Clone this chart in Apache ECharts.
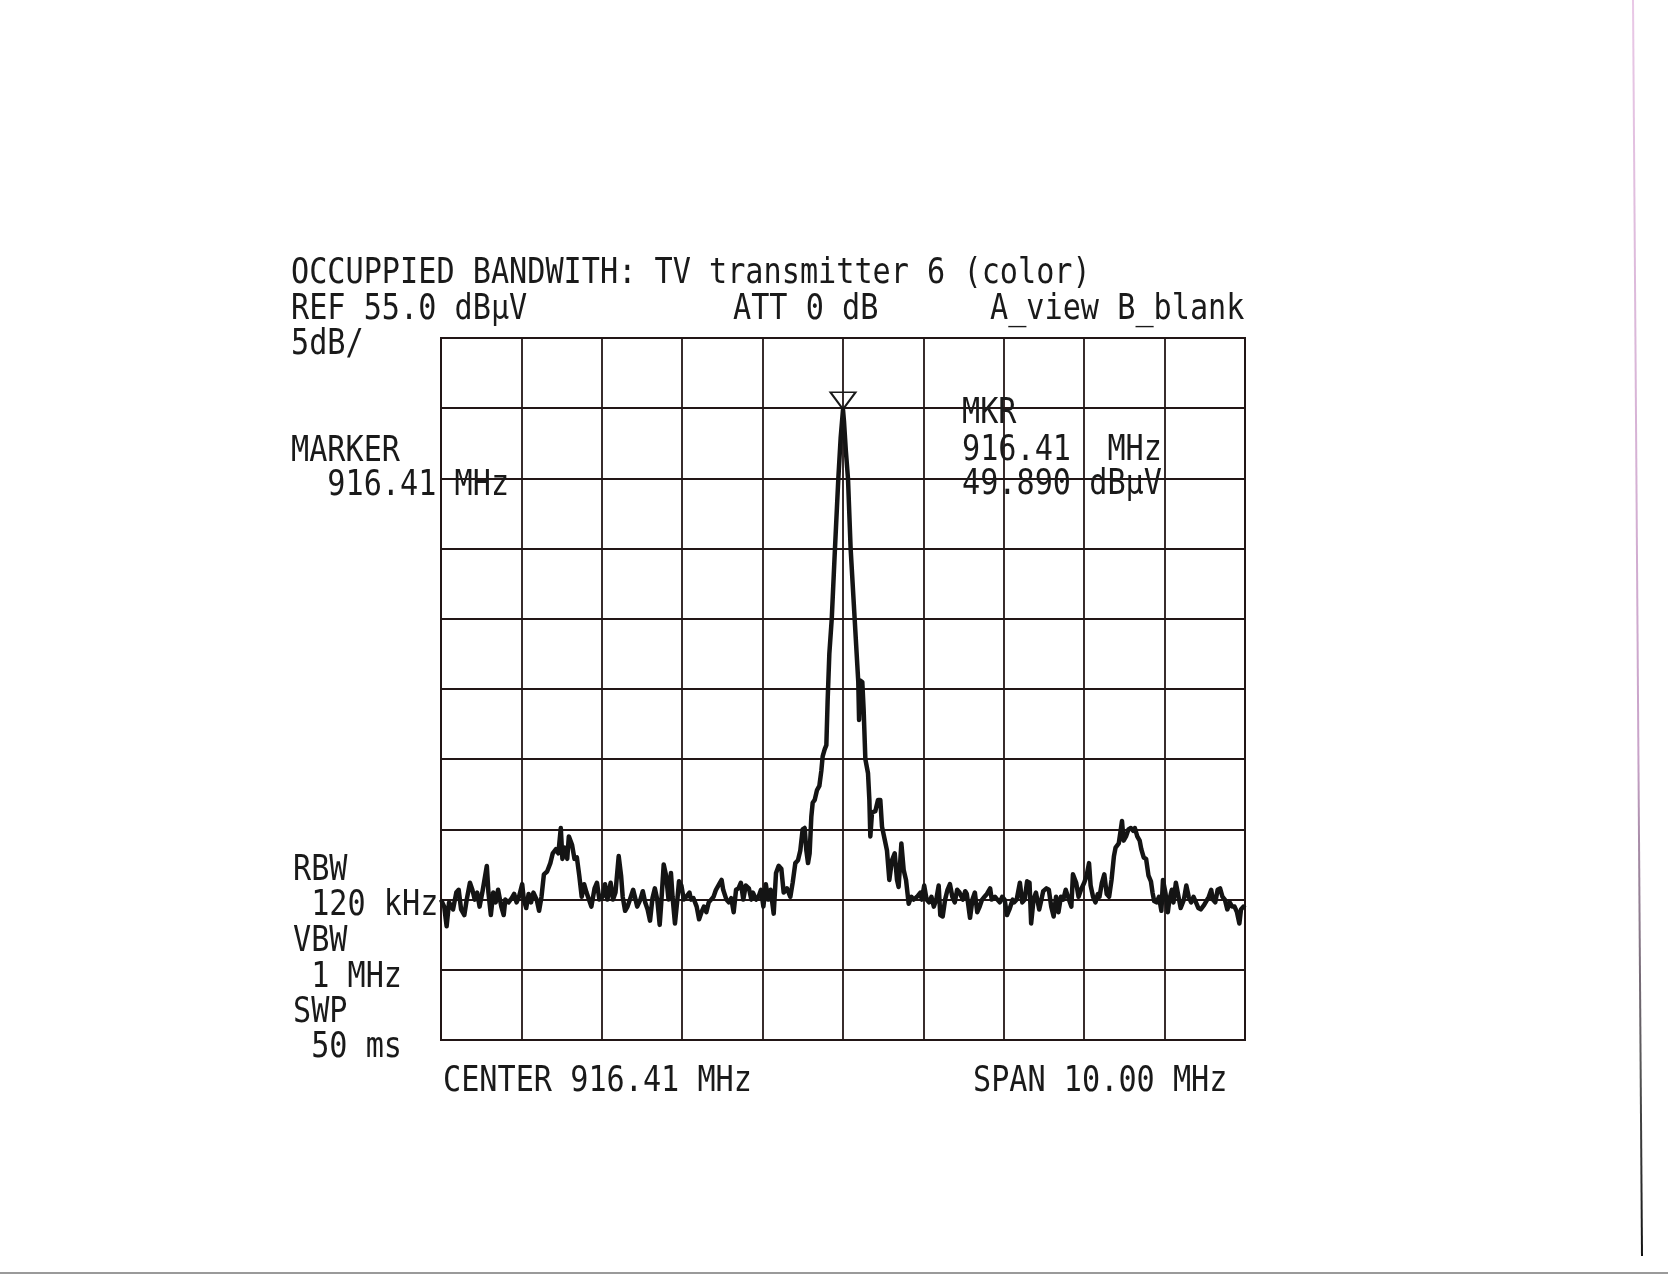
<!DOCTYPE html>
<html>
<head>
<meta charset="utf-8">
<script src="https://cdn.jsdelivr.net/npm/echarts@6/dist/echarts.min.js"></script>
<style>
html,body{margin:0;padding:0;background:#fff;}
#chart{width:1668px;height:1275px;}
</style>
</head>
<body>
<div id="chart"></div>
<script>
// Frequency offset from center (MHz) and trace level (dBµV)
const freqOffsetMHz = [
-5.00,-4.96,-4.93,-4.90,-4.85,-4.81,-4.78,-4.75,-4.71,-4.68,-4.64,-4.61,-4.58,-4.55,-4.52,-4.48,-4.43,-4.41,-4.38,-4.35,
-4.32,-4.29,-4.25,-4.22,-4.20,-4.16,-4.12,-4.09,-4.06,-4.03,-3.99,-3.97,-3.94,-3.91,-3.88,-3.85,-3.81,-3.78,-3.75,-3.72,
-3.68,-3.64,-3.61,-3.57,-3.54,-3.51,-3.49,-3.46,-3.43,-3.41,-3.37,-3.34,-3.31,-3.28,-3.25,-3.22,-3.19,-3.16,-3.13,-3.09,
-3.06,-3.03,-2.99,
-2.96,-2.93,-2.89,-2.86,-2.83,-2.79,-2.76,-2.74,-2.71,-2.68,-2.65,-2.61,-2.58,-2.56,-2.52,-2.49,-2.46,-2.43,-2.40,-2.37,
-2.34,-2.31,-2.28,-2.26,-2.23,-2.20,-2.17,-2.14,-2.12,-2.09,-2.06,-2.04,-2.01,-1.98,-1.95,-1.91,-1.89,-1.86,-1.82,-1.79,
-1.76,-1.73,-1.70,-1.67,-1.64,-1.61,-1.58,-1.54,-1.51,-1.49,-1.45,-1.42,-1.39,-1.36,-1.33,-1.30,-1.27,-1.24,-1.21,-1.17,
-1.14,-1.12,-1.08,-1.05,-1.02,-0.99,-0.96,-0.93,-0.90,
-0.862,-0.833,-0.800,-0.767,-0.738,-0.697,-0.655,-0.626,-0.593,-0.560,-0.531,-0.502,-0.477,-0.456,-0.435,-0.415,-0.394,-0.377,-0.352,-0.323,
-0.294,-0.269,-0.253,-0.228,-0.207,-0.191,-0.170,-0.140,-0.100,-0.058,-0.029,0.000,0.012,0.035,0.062,0.095,0.145,0.174,0.190,0.200,
0.215,0.240,0.257,0.278,0.311,0.328,0.340,0.361,0.402,0.435,0.464,0.485,0.518,0.547,0.576,0.609,0.643,0.672,0.692,0.726,
0.755,0.784,0.817,0.850,0.879,0.920,0.962,
0.98,1.01,1.04,1.07,1.10,1.13,1.16,1.19,1.21,1.24,1.27,1.30,1.33,1.36,1.39,1.42,1.45,1.49,1.52,1.54,
1.58,1.61,1.64,1.67,1.70,1.73,1.76,1.79,1.83,1.85,1.89,1.92,1.95,1.98,2.01,2.04,2.07,2.11,2.13,2.16,
2.20,2.23,2.26,2.29,2.32,2.34,2.37,2.40,2.44,2.46,2.49,2.53,2.56,2.59,2.62,2.65,2.68,2.71,2.74,2.77,
2.81,2.84,2.86,2.90,2.93,2.96,3.00,
3.03,3.06,3.08,3.11,3.14,3.17,3.19,3.22,3.25,3.28,3.31,3.34,3.37,3.39,3.43,3.45,3.47,3.49,3.52,3.55,
3.58,3.61,3.63,3.66,3.69,3.71,3.74,3.77,3.80,3.83,3.85,3.87,3.90,3.93,3.96,3.98,4.01,4.04,4.06,4.09,
4.11,4.14,4.18,4.20,4.24,4.27,4.30,4.33,4.36,4.39,4.42,4.45,4.49,4.51,4.55,4.58,4.60,4.63,4.66,4.69,
4.72,4.75,4.78,4.81,4.84,4.87,4.90,4.93,4.95,4.98,5.00
];
const levelDbuV = [
15.0,14.5,13.1,14.8,14.3,15.5,15.7,14.3,13.9,15.0,16.2,15.7,15.0,15.5,14.5,15.7,17.4,15.5,13.9,15.5,
14.8,15.7,14.5,13.9,15.0,14.8,15.1,15.4,14.8,15.2,16.1,15.0,14.4,15.4,14.8,15.5,15.0,14.2,15.2,16.8,
17.0,17.6,18.3,18.6,18.3,20.1,17.9,18.7,17.9,19.5,18.9,17.9,18.0,16.7,15.2,16.1,15.5,15.0,14.5,15.8,
16.2,15.0,15.2,
16.1,15.0,16.2,15.0,15.5,18.1,16.7,15.2,14.2,14.5,15.0,15.7,15.0,14.5,15.0,15.6,14.8,14.3,13.5,15.1,
15.8,15.0,13.2,14.8,17.5,16.7,15.0,16.9,15.2,13.3,15.0,16.3,16.0,15.0,15.2,15.5,15.0,15.1,14.5,13.6,
14.1,14.5,14.1,14.8,15.0,15.2,15.7,16.1,16.4,15.7,15.0,14.8,15.1,14.1,15.7,15.8,16.2,15.0,16.0,15.8,
15.0,15.5,15.0,15.2,15.7,14.5,16.1,15.0,15.7,
14.0,16.9,17.4,17.2,15.5,15.8,15.2,16.2,17.6,17.8,18.5,20.0,20.1,18.5,17.6,18.3,20.9,21.9,22.1,22.8,
23.1,24.2,25.2,25.7,26.0,29.2,32.5,35.0,40.0,45.0,47.9,49.89,49.1,47.0,45.0,40.0,35.0,32.1,30.5,27.8,
30.6,30.5,28.5,25.0,24.0,22.1,19.5,21.2,21.3,22.1,22.1,20.2,19.3,18.5,16.4,17.8,18.3,16.4,15.9,19.0,
17.1,16.4,14.7,15.2,15.0,15.2,15.5,
15.0,16.0,15.0,14.8,15.2,14.5,15.0,16.0,13.9,13.8,15.0,15.7,16.1,15.2,14.8,15.7,15.5,15.0,15.6,15.4,
13.7,15.0,15.5,14.1,14.5,15.0,15.2,15.4,15.8,15.0,15.2,15.0,14.8,15.2,15.0,13.9,14.3,15.0,14.8,15.0,
16.2,14.8,15.0,16.3,16.2,13.3,15.0,15.5,14.3,14.8,15.6,15.8,15.7,14.5,13.8,15.2,14.1,15.2,15.0,15.7,
15.0,14.5,16.8,16.2,15.2,15.7,16.2,
16.7,17.6,16.0,15.2,14.8,15.4,15.2,16.2,16.8,15.4,15.2,16.4,18.1,18.7,19.0,19.8,20.6,19.2,19.5,20.0,
20.1,19.9,20.1,19.5,19.2,18.6,18.0,17.9,16.7,16.3,15.5,14.9,14.8,15.2,14.2,16.4,15.5,14.1,15.0,15.7,
14.8,16.2,15.0,14.4,15.0,16.0,15.2,14.8,15.2,14.8,14.4,14.3,14.6,14.5,15.2,15.7,15.0,14.8,15.7,15.8,
15.2,15.0,14.3,14.8,14.5,14.5,14.1,13.3,14.3,14.5,14.4
];
// Marker (offset MHz, level dBµV)
const markerPoint = [0.0, 49.89];
// Axis settings: span 10 MHz, 10 divisions; REF 55 dBµV, 5 dB/div
const xRange = [-5, 5];
const yRange = [5, 55];
const xDiv = 1;
const yDiv = 5;

const textLines = [
  ['OCCUPPIED BANDWITH: TV transmitter 6 (color)', 291, 274],
  ['REF 55.0 dBμV', 291, 310],
  ['ATT 0 dB', 733, 310],
  ['A_view B_blank', 990, 310],
  ['5dB/', 291, 344.5],
  ['MARKER', 291, 452],
  ['  916.41 MHz', 291, 485.5],
  ['MKR', 962, 414],
  ['916.41  MHz', 962, 450.5],
  ['49.890 dBμV', 962, 484.5],
  ['RBW', 293, 870.5],
  [' 120 kHz', 293, 905.5],
  ['VBW', 293, 941.5],
  [' 1 MHz', 293, 978],
  ['SWP', 293, 1012.5],
  [' 50 ms', 293, 1048],
  ['CENTER 916.41 MHz', 443, 1082],
  ['SPAN 10.00 MHz', 973, 1082]
];

const chart = echarts.init(document.getElementById('chart'), null, {renderer: 'canvas'});
const traceData = freqOffsetMHz.map((f, i) => [f, levelDbuV[i]]);
const gridColor = '#221616';

const graphics = textLines.map(t => ({
  type: 'text',
  x: t[1], y: t[2],
  scaleY: 1.17,
  z: 100,
  style: {
    text: t[0], x: 0, y: 0,
    font: '30.2px "DejaVu Sans Mono"',
    fill: '#1a1a1a',
    textAlign: 'left',
    textVerticalAlign: 'middle'
  }
}));
// scan edge artifacts
graphics.push({
  type: 'line', z: 1,
  shape: {x1: 1633, y1: 0, x2: 1642, y2: 1256},
  style: {
    lineWidth: 2,
    stroke: {type: 'linear', x: 1633, y: 0, x2: 1642, y2: 1256, global: true,
      colorStops: [{offset: 0, color: '#e9c8e6'}, {offset: 0.6, color: '#c9a3c9'}, {offset: 0.85, color: '#555'}, {offset: 1, color: '#111'}]}
  }
});
graphics.push({
  type: 'line', z: 1,
  shape: {x1: 0, y1: 1273, x2: 1668, y2: 1273},
  style: {lineWidth: 2, stroke: '#9a9a9a'}
});

chart.setOption({
  animation: false,
  backgroundColor: '#ffffff',
  grid: {
    left: 441, top: 338, width: 804, height: 702,
    show: true, borderColor: gridColor, borderWidth: 2, backgroundColor: 'transparent'
  },
  xAxis: {
    type: 'value', min: xRange[0], max: xRange[1], interval: xDiv,
    axisLine: {show: false}, axisTick: {show: false}, axisLabel: {show: false},
    splitLine: {show: true, lineStyle: {color: gridColor, width: 1.8}}
  },
  yAxis: {
    type: 'value', min: yRange[0], max: yRange[1], interval: yDiv,
    axisLine: {show: false}, axisTick: {show: false}, axisLabel: {show: false},
    splitLine: {show: true, lineStyle: {color: gridColor, width: 1.8}}
  },
  series: [{
    type: 'line',
    data: traceData,
    symbol: 'none',
    lineStyle: {color: '#141414', width: 4.5, join: 'round'},
    z: 5,
    markPoint: {
      symbol: 'triangle',
      symbolSize: [25, 17],
      symbolRotate: 180,
      symbolOffset: [0, -9],
      itemStyle: {color: 'rgba(255,255,255,0)', borderColor: '#1a1a1a', borderWidth: 2},
      label: {show: false},
      data: [{coord: markerPoint}]
    }
  }],
  graphic: graphics
});
</script>
</body>
</html>
